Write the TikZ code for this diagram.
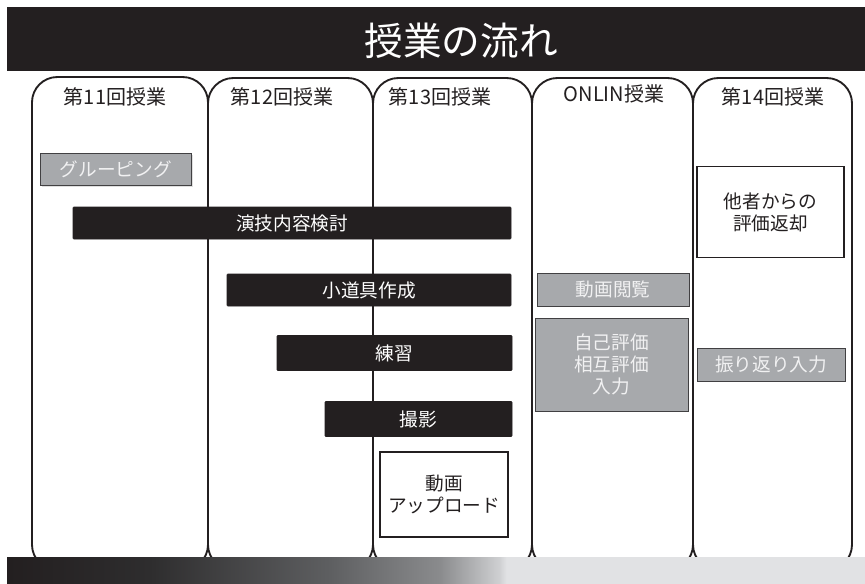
\documentclass[tikz,border=0pt]{standalone}
\usepackage{fontspec}
\setmainfont{Noto Sans CJK JP}
\usetikzlibrary{shadows}
\definecolor{ink}{HTML}{231F20}
\definecolor{boxgrey}{HTML}{A7A9AC}
\definecolor{boxedge}{HTML}{414042}
\definecolor{lighttext}{HTML}{F1F1F2}
\definecolor{gA}{HTML}{2E2D2E}
\definecolor{gB}{HTML}{5E5F61}
\definecolor{gC}{HTML}{8A8B8D}
\definecolor{gD}{HTML}{CFD0D2}
\definecolor{gE}{HTML}{E1E2E4}
\pgfdeclarehorizontalshading{bottombar}{100bp}{color(0bp)=(ink); color(25bp)=(ink);
  color(33.33bp)=(gA); color(43.82bp)=(gB); color(50.23bp)=(gC);
  color(53.7bp)=(gD); color(54.1bp)=(gE); color(100bp)=(gE)}
\tikzset{
  colbox/.style={draw=ink, line width=1.4pt, rounded corners=19pt},
  collabel/.style={font=\fontsize{15}{17}\selectfont, text=ink, inner sep=0pt},
  blackbar/.style={fill=ink, draw=ink, rounded corners=0.6pt, inner sep=0pt, text=white,
    font=\fontsize{14}{16}\selectfont},
  greybox/.style={fill=boxgrey, draw=boxedge, line width=0.6pt, inner sep=0pt, text=lighttext,
    align=center, font=\fontsize{14}{16.5}\selectfont,
    drop shadow={shadow xshift=0.8pt, shadow yshift=-1pt, opacity=0.25}},
  whitebox/.style={fill=white, draw=ink, line width=1.1pt, inner sep=0pt, text=ink,
    align=center, font=\fontsize{14}{16.5}\selectfont},
}
\begin{document}
\begin{tikzpicture}[x=0.75pt, y=-0.75pt]
\useasboundingbox (0,0) rectangle (865,583);
\fill[white] (0,0) rectangle (865,583);

% columns
\draw[colbox] (32,77) rectangle (208,570);
\draw[colbox] (208,78) rectangle (373,570);
\draw[colbox] (373,78) rectangle (532,570);
\draw[colbox] (532,78) rectangle (693,570);
\draw[colbox] (693,78) rectangle (852,570);

% title bar
\fill[ink] (7,7) rectangle (865,71);
\node[text=white, font=\fontsize{29}{32}\selectfont, inner sep=0pt] (title) at (461,41) {授業の流れ};

% column labels
\node[collabel] (c1) at (115,97) {第11回授業};
\node[collabel] (c2) at (282,97) {第12回授業};
\node[collabel] (c3) at (440,97) {第13回授業};
\node[collabel] (c4) at (614,94) {ONLIN授業};
\node[collabel] (c5) at (773,97) {第14回授業};

% activities
\node[greybox, minimum width=113.25pt, minimum height=24pt] (group) at (116,169.5) {グルーピング};
\node[blackbar, minimum width=328.5pt, minimum height=24pt] (enji) at (292,223) {演技内容検討};
\node[blackbar, minimum width=213pt, minimum height=24pt] (kodougu) at (369,290) {小道具作成};
\node[blackbar, minimum width=176.25pt, minimum height=26.25pt] (renshu) at (394.5,353) {練習};
\node[blackbar, minimum width=140.25pt, minimum height=26.25pt] (satsuei) at (418.5,419) {撮影};
\node[whitebox, minimum width=96pt, minimum height=63.75pt] (upload) at (444,494.5) {動画\\アップロード};

\node[greybox, minimum width=114pt, minimum height=24.75pt] (etsuran) at (613,289.5) {動画閲覧};
\node[greybox, minimum width=114.75pt, minimum height=69.75pt] (hyouka) at (611.5,364.5) {自己評価\\相互評価\\入力};

\node[whitebox, minimum width=110.25pt, minimum height=68.25pt] (tasha) at (770.5,212) {他者からの\\評価返却};
\node[greybox, minimum width=111pt, minimum height=24.75pt] (furikaeri) at (771,364.5) {振り返り入力};

% bottom gradient bar
\shade[shading=bottombar] (7,557) rectangle (865,583);
\end{tikzpicture}
\end{document}
